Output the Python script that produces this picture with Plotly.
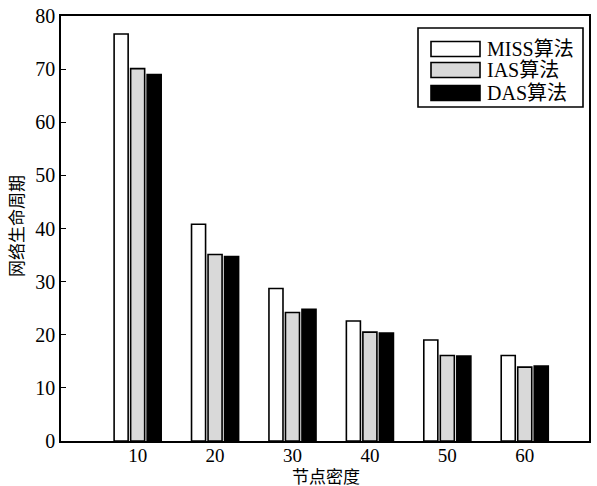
import plotly.graph_objects as go

# Node density groups and network lifetime per algorithm
densities = [10, 20, 30, 40, 50, 60]
series_names = ["MISS算法", "IAS算法", "DAS算法"]
miss_values = [76.6, 40.8, 28.7, 22.6, 19.0, 16.1]
ias_values = [70.1, 35.1, 24.2, 20.5, 16.1, 13.9]
das_values = [69.0, 34.7, 24.8, 20.3, 16.0, 14.1]
y_ticks = [0, 10, 20, 30, 40, 50, 60, 70, 80]
x_title = "节点密度"
y_title = "网络生命周期"

fills = ["#ffffff", "#d9d9d9", "#000000"]
FONT = "Liberation Serif, Noto Sans CJK SC, serif"

W, H = 597, 486
L, R, T, B = 61, 589, 16, 441

fig = go.Figure()
for name, vals, col in zip(series_names, [miss_values, ias_values, das_values], fills):
    fig.add_trace(go.Bar(
        x=densities, y=vals, name=name,
        marker=dict(color=col, line=dict(color="#000000", width=1.6)),
        showlegend=False,
    ))

# Pixel -> paper coordinate helpers for layout placement
def px_x(p):
    return (p - L) / (R - L)

def px_y(p):
    return (B - p) / (B - T)

# Hand-built legend box with wide swatches
shapes = [dict(type="rect", xref="paper", yref="paper",
               x0=px_x(418), x1=px_x(583), y0=px_y(107), y1=px_y(28),
               line=dict(color="#000000", width=1.6), fillcolor="#ffffff", layer="above")]
annotations = []
row_centers = [49, 70, 93]
for name, col, yc in zip(series_names, fills, row_centers):
    shapes.append(dict(type="rect", xref="paper", yref="paper",
                       x0=px_x(431), x1=px_x(480), y0=px_y(yc + 7.5), y1=px_y(yc - 7.5),
                       line=dict(color="#000000", width=1.6), fillcolor=col, layer="above"))
    annotations.append(dict(xref="paper", yref="paper", x=px_x(485), y=px_y(yc),
                            xanchor="left", yanchor="middle", text=name, showarrow=False,
                            font=dict(family=FONT, size=20, color="#000000")))

# Axis titles
annotations.append(dict(xref="paper", yref="paper", x=px_x(326), y=px_y(477),
                        xanchor="center", yanchor="middle", text=x_title, showarrow=False,
                        font=dict(family=FONT, size=17, color="#000000")))
annotations.append(dict(xref="paper", yref="paper", x=px_x(17), y=px_y(226),
                        xanchor="center", yanchor="middle", text=y_title, showarrow=False,
                        textangle=-90, font=dict(family=FONT, size=17, color="#000000")))

fig.update_layout(
    width=W, height=H,
    margin=dict(l=L, r=W - R, t=T, b=H - B, pad=0),
    paper_bgcolor="#ffffff", plot_bgcolor="#ffffff",
    barmode="group", bargap=0.36, bargroupgap=0.15,
    font=dict(family=FONT, size=19, color="#000000"),
    shapes=shapes, annotations=annotations,
    xaxis=dict(
        range=[0.1, 68.3], tickmode="array", tickvals=densities,
        ticktext=[str(d) for d in densities], ticks="", showgrid=False, zeroline=False,
        showline=True, linecolor="#000000", linewidth=1.6, mirror=True, automargin=False,
        tickfont=dict(family=FONT, size=19), ticklabelstandoff=-4,
    ),
    yaxis=dict(
        range=[0, 80], tickmode="array", tickvals=y_ticks,
        ticks="inside", ticklen=5, tickwidth=1.4, tickcolor="#000000",
        showgrid=False, zeroline=False, automargin=False,
        showline=True, linecolor="#000000", linewidth=1.6, mirror=True,
        tickfont=dict(family=FONT, size=20),
    ),
)

fig.write_html("out.html")
